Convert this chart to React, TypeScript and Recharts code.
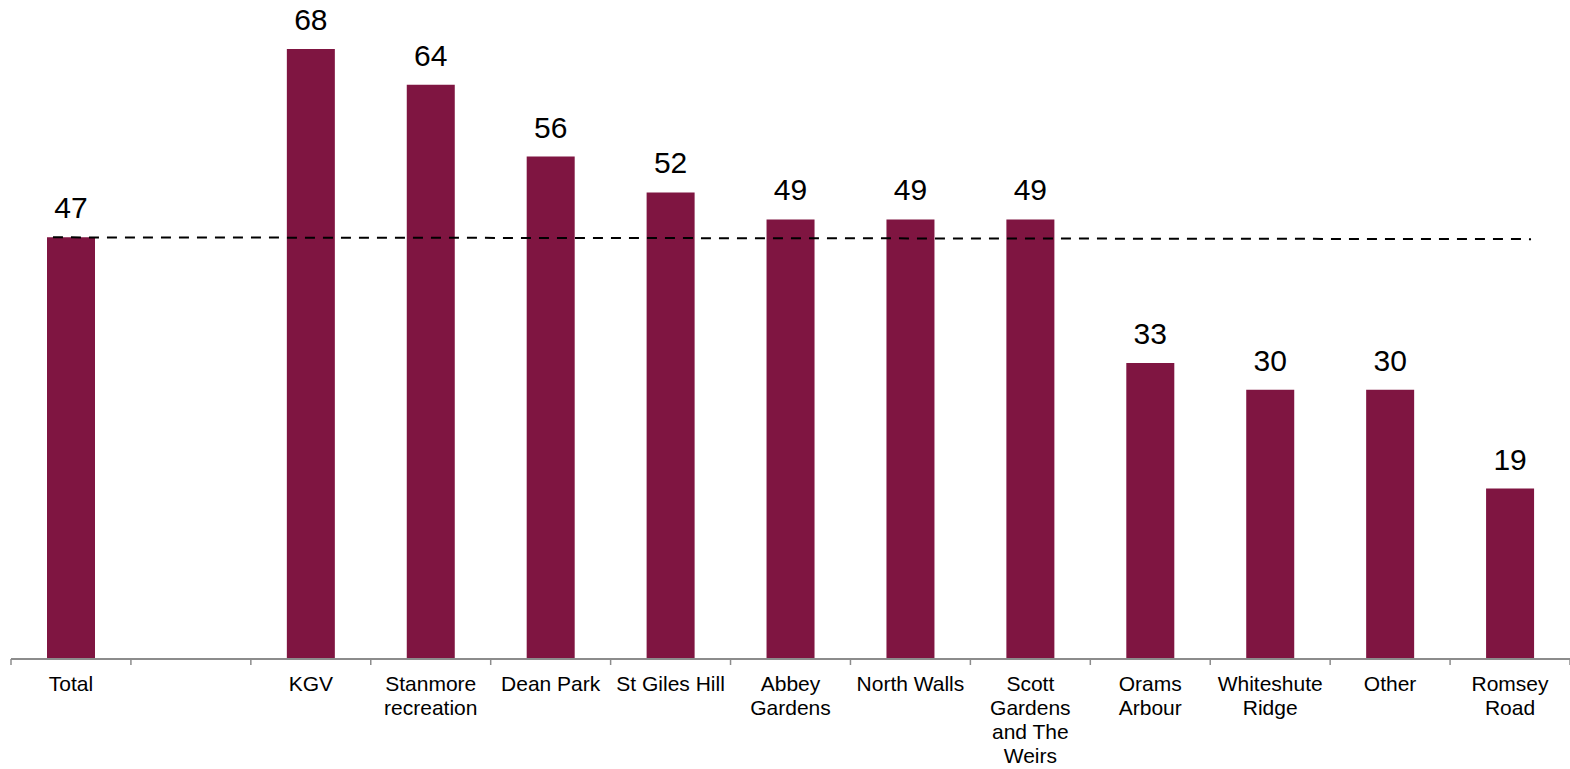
import React from 'react';
import { BarChart, Bar, XAxis, YAxis, LabelList, ReferenceLine } from 'recharts';

const categories = [
  'Total',
  ' ',
  'KGV',
  'Stanmore\nrecreation',
  'Dean Park',
  'St Giles Hill',
  'Abbey\nGardens',
  'North Walls',
  'Scott\nGardens\nand The\nWeirs',
  'Orams\nArbour',
  'Whiteshute\nRidge',
  'Other',
  'Romsey\nRoad',
];
const values: (number | null)[] = [47, null, 68, 64, 56, 52, 49, 49, 49, 33, 30, 30, 19];
const averageStart = 47;
const averageEnd = 46.8;

const data = categories.map((c, i) => ({ name: c, value: values[i] }));

const FONT = '"Liberation Sans", Arial, sans-serif';
const BAR_COLOR = '#7F1541';
const AXIS_COLOR = '#8c8c8c';

const CategoryTick = (props: any) => {
  const { x, y, payload, index } = props;
  const lines = String(payload.value).split('\n');
  const half = payload.offset ?? 60;
  const axisY = y - 8;
  const isLast = index === categories.length - 1;
  return (
    <g>
      <line x1={x - half} y1={axisY} x2={x - half} y2={axisY + 6} stroke={AXIS_COLOR} strokeWidth={1.5} />
      {isLast && (
        <line x1={x + half} y1={axisY} x2={x + half} y2={axisY + 6} stroke={AXIS_COLOR} strokeWidth={1.5} />
      )}
      <text x={x} y={y} textAnchor="middle" fontFamily={FONT} fontSize={21} fill="#000">
        {lines.map((l, i) => (
          <tspan key={i} x={x} dy={24}>
            {l}
          </tspan>
        ))}
      </text>
    </g>
  );
};

const DashedShape = (props: any) => {
  const { x1, y1, x2, y2 } = props;
  return (
    <line
      x1={x1 - 18}
      y1={y1}
      x2={x2 + 21}
      y2={y2}
      stroke="#000"
      strokeWidth={2}
      strokeDasharray="10 8"
    />
  );
};

export default function App() {
  return (
    <div style={{ position: 'absolute', left: 0, top: 0, background: '#fff' }}>
      <BarChart
        width={1570}
        height={769}
        data={data}
        margin={{ top: 31, right: 0, bottom: 0, left: 11 }}
        barCategoryGap={0}
      >
        <XAxis
          dataKey="name"
          height={110}
          interval={0}
          tick={<CategoryTick />}
          tickSize={6}
          tickMargin={2}
          tickLine={false}
          axisLine={{ stroke: AXIS_COLOR, strokeWidth: 2 }}
        />
        <YAxis hide domain={[0, 70]} />
        <Bar dataKey="value" fill={BAR_COLOR} barSize={48} isAnimationActive={false}>
          <LabelList
            dataKey="value"
            position="top"
            offset={19}
            fontFamily={FONT}
            fontSize={30}
            fill="#000"
            formatter={(v: any) => (v == null ? '' : v)}
          />
        </Bar>
        <ReferenceLine
          segment={[
            { x: categories[0], y: averageStart },
            { x: categories[categories.length - 1], y: averageEnd },
          ]}
          shape={<DashedShape />}
          ifOverflow="visible"
        />
      </BarChart>
    </div>
  );
}
